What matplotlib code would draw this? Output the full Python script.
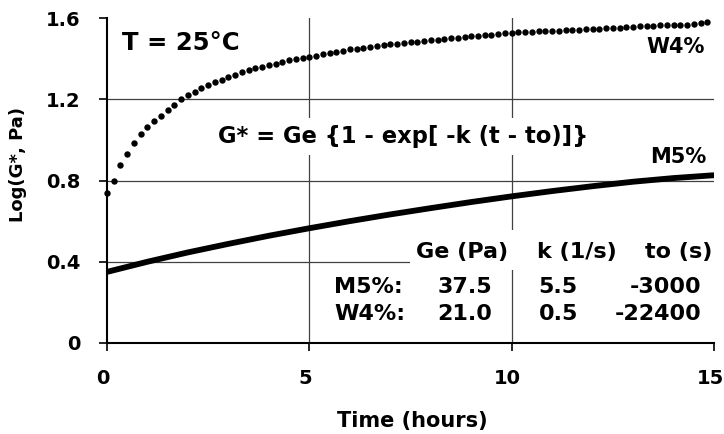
import numpy as np
import matplotlib
matplotlib.use('Agg')
import matplotlib.pyplot as plt
from matplotlib.patches import Rectangle
from matplotlib.transforms import ScaledTranslation

# W4% data: one reading every 10 minutes (hours)
w4_time = np.arange(90) / 6.0
w4_logg = [0.74, 0.80, 0.875, 0.93, 0.985, 1.03, 1.065, 1.095, 1.12, 1.145,
           1.17, 1.20, 1.222, 1.238, 1.254, 1.268, 1.283, 1.296, 1.308, 1.320,
           1.332, 1.343, 1.352, 1.360, 1.368, 1.376, 1.384, 1.391, 1.397, 1.403,
           1.409, 1.415, 1.421, 1.427, 1.433, 1.439, 1.445, 1.449, 1.453, 1.457,
           1.462, 1.466, 1.470, 1.474, 1.478, 1.481, 1.484, 1.487, 1.490, 1.493,
           1.497, 1.500, 1.503, 1.506, 1.509, 1.512, 1.515, 1.518, 1.521, 1.524,
           1.527, 1.529, 1.531, 1.532, 1.534, 1.536, 1.537, 1.538, 1.539, 1.541,
           1.542, 1.544, 1.546, 1.547, 1.549, 1.551, 1.553, 1.556, 1.558, 1.560,
           1.562, 1.563, 1.564, 1.565, 1.566, 1.567, 1.568, 1.570, 1.573, 1.578]

# M5% data (hourly readings)
m5_time = [0, 1, 2, 3, 4, 5, 6, 7, 8, 9, 10, 11, 12, 13, 14, 15]
m5_logg = [0.35, 0.40, 0.446, 0.488, 0.528, 0.565, 0.600, 0.633, 0.664, 0.694,
           0.722, 0.748, 0.772, 0.794, 0.812, 0.826]

x_ticks = [0, 5, 10, 15]
y_ticks = [0, 0.4, 0.8, 1.2, 1.6]
y_tick_labels = ['0', '0.4', '0.8', '1.2', '1.6']
grid_x = [5, 10]
grid_y = [0.4, 0.8, 1.2]

# fit table
table_header = ['Ge (Pa)', 'k (1/s)', 'to (s)']
table_rows = ['M5%:', 'W4%:']
table_ge = ['37.5', '21.0']
table_k = ['5.5', '0.5']
table_to = ['-3000', '-22400']

plt.rcParams['font.family'] = 'DejaVu Sans'
plt.rcParams['font.weight'] = 'bold'

fig = plt.figure(figsize=(7.24, 4.34), dpi=100)
ax = fig.add_axes([0.1478, 0.2097, 0.8385, 0.7488])

# grid lines
for gx in grid_x:
    ax.axvline(gx, color='0.25', lw=0.9, zorder=1)
for gy in grid_y:
    ax.axhline(gy, color='0.25', lw=0.9, zorder=1)

ax.plot(m5_time, m5_logg, color='black', lw=4.2, solid_capstyle='butt', zorder=3)
ax.plot(w4_time, w4_logg, 'o', color='black', ms=4.6, mew=0, clip_on=False, zorder=3)

ax.set_xlim(0, 15)
ax.set_ylim(0, 1.6)
ax.set_xticks(x_ticks)
ax.set_yticks(y_ticks)
ax.set_yticklabels(y_tick_labels)
ax.tick_params(axis='both', direction='out', length=6, width=1.2, labelsize=14)
ax.tick_params(axis='x', pad=13)
ax.tick_params(axis='y', pad=13)
for label in ax.get_xticklabels():
    label.set_transform(label.get_transform() + ScaledTranslation(-0.04, 0, fig.dpi_scale_trans))

ax.spines['top'].set_visible(False)
ax.spines['right'].set_visible(False)
ax.spines['left'].set_linewidth(1.5)
ax.spines['bottom'].set_linewidth(1.5)

# annotations
ax.text(0.37, 1.443, 'T = 25°C', fontsize=17.5, va='baseline')
ax.text(2.74, 0.985, 'G* = Ge {1 - exp[ -k (t - to)]}', fontsize=16.3, va='baseline',
        bbox=dict(boxstyle='square,pad=0.3', fc='white', ec='none'), zorder=4)
ax.text(13.33, 1.428, 'W4%', fontsize=15, va='baseline')
ax.text(13.43, 0.886, 'M5%', fontsize=15, va='baseline')

# table, header sits on a white strip that hides the grid
ax.add_patch(Rectangle((7.49, 0.359), 7.51, 0.197, fc='white', ec='none', zorder=2))
for name, xpos, align in zip(table_header, [8.78, 10.62, 14.12], ['center', 'left', 'center']):
    ax.text(xpos, 0.4185, name, fontsize=16, va='baseline', ha=align, zorder=4)
for i, yrow in enumerate([0.246, 0.113]):
    ax.text(5.62, yrow, table_rows[i], fontsize=16, va='baseline')
    ax.text(8.16, yrow, table_ge[i], fontsize=16, va='baseline')
    ax.text(10.66, yrow, table_k[i], fontsize=16, va='baseline')
    ax.text(14.68, yrow, table_to[i], fontsize=16, va='baseline', ha='right')

fig.text(0.0249, 0.62, 'Log(G*, Pa)', fontsize=13, rotation=90, ha='center', va='center')
fig.text(0.570, 0.0161, 'Time (hours)', fontsize=15, ha='center', va='baseline')

fig.savefig('out.png', dpi=100)
